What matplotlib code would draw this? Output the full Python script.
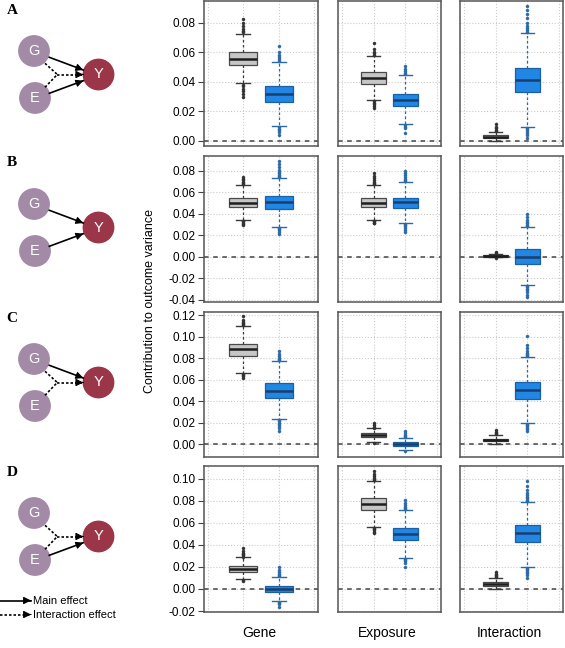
import matplotlib
matplotlib.use("Agg")
import matplotlib.pyplot as plt
from matplotlib.patches import Circle

plt.rcParams['font.family'] = ['Liberation Sans', 'DejaVu Sans']
plt.rcParams['axes.unicode_minus'] = False

# colonnes et scenarios
columns = ["Gene", "Exposure", "Interaction"]
scenarios = ["A", "B", "C", "D"]

# statistiques des boites : [scenario][colonne][gris, bleu]
med = [[[0.0554, 0.0316], [0.0426, 0.0279], [0.0027, 0.0412]],
       [[0.0502, 0.0506], [0.0502, 0.0506], [0.0006, 0.0000]],
       [[0.0881, 0.0497], [0.0083, 0.0000], [0.0040, 0.0501]],
       [[0.0184, 0.0000], [0.0773, 0.0501], [0.0045, 0.0505]]]
q1 = [[[0.0512, 0.0262], [0.0388, 0.0237], [0.0018, 0.0333]],
      [[0.0462, 0.0444], [0.0462, 0.0456], [0.0000, -0.0065]],
      [[0.0822, 0.0430], [0.0065, -0.0016], [0.0028, 0.0423]],
      [[0.0157, -0.0030], [0.0719, 0.0444], [0.0030, 0.0426]]]
q3 = [[[0.0600, 0.0372], [0.0464, 0.0318], [0.0041, 0.0494]],
      [[0.0543, 0.0562], [0.0543, 0.0549], [0.0013, 0.0072]],
      [[0.0928, 0.0566], [0.0102, 0.0019], [0.0052, 0.0575]],
      [[0.0211, 0.0027], [0.0822, 0.0556], [0.0061, 0.0578]]]
whislo = [[[0.0390, 0.0101], [0.0277, 0.0113], [0.0002, 0.0097]],
          [[0.0344, 0.0276], [0.0344, 0.0316], [-0.0006, -0.0263]],
          [[0.0664, 0.0232], [0.0021, -0.0056], [0.0003, 0.0195]],
          [[0.0088, -0.0109], [0.0565, 0.0281], [0.0003, 0.0202]]]
whishi = [[[0.0726, 0.0534], [0.0575, 0.0444], [0.0063, 0.0728]],
          [[0.0667, 0.0729], [0.0667, 0.0695], [0.0025, 0.0276]],
          [[0.1095, 0.0773], [0.0148, 0.0056], [0.0086, 0.0807]],
          [[0.0287, 0.0109], [0.0979, 0.0716], [0.0097, 0.0791]]]

# valeurs extremes (outliers)
fliers = [
    [[[0.0735, 0.0745, 0.0758, 0.0775, 0.0795, 0.0825, 0.0381, 0.037, 0.0355, 0.034, 0.032, 0.030],
      [0.0543, 0.0553, 0.0565, 0.058, 0.060, 0.0644, 0.0093, 0.0083, 0.0072, 0.006, 0.0039]],
     [[0.0583, 0.0593, 0.0605, 0.062, 0.066, 0.027, 0.026, 0.025, 0.0238, 0.0225],
      [0.0452, 0.0462, 0.0475, 0.049, 0.0509, 0.0106, 0.0097, 0.0088, 0.0052]],
     [[0.0069, 0.0077, 0.0086, 0.0097, 0.0113],
      [0.0738, 0.075, 0.0765, 0.078, 0.080, 0.083, 0.086, 0.0888, 0.0915,
       0.009, 0.008, 0.0068, 0.0055, 0.004, 0.0018]]],
    [[[0.0675, 0.0685, 0.0697, 0.071, 0.0725, 0.0744, 0.0337, 0.0328, 0.0318, 0.0307, 0.0295],
      [0.0738, 0.0748, 0.076, 0.0775, 0.079, 0.081, 0.0835, 0.086, 0.0893,
       0.0268, 0.0258, 0.0246, 0.0232, 0.0208]],
     [[0.0675, 0.0685, 0.0697, 0.071, 0.073, 0.0752, 0.0781, 0.0337, 0.0328, 0.0318, 0.031],
      [0.0703, 0.0713, 0.0725, 0.074, 0.0758, 0.0778, 0.080, 0.0308, 0.0298, 0.0286, 0.027, 0.025, 0.0227]],
     [[0.0031, 0.0041, -0.0012],
      [0.0285, 0.0296, 0.031, 0.0326, 0.0345, 0.0368, 0.0394,
       -0.0272, -0.0283, -0.0296, -0.0312, -0.0332, -0.0352, -0.0372]]],
    [[[0.1103, 0.1113, 0.1125, 0.1138, 0.1155, 0.119, 0.0656, 0.0647, 0.0636, 0.0618],
      [0.0781, 0.0791, 0.0803, 0.0818, 0.0838, 0.0868, 0.0224, 0.0214, 0.0202, 0.0188, 0.017, 0.015, 0.0126]],
     [[0.0155, 0.0165, 0.0178, 0.0195, 0.0013],
      [0.0064, 0.0075, 0.0088, 0.0105, 0.0126, -0.0062]],
     [[0.0093, 0.0102, 0.0114, 0.013],
      [0.0815, 0.0825, 0.0838, 0.0852, 0.087, 0.0892, 0.0918, 0.1005,
       0.0188, 0.0178, 0.0166, 0.0152, 0.0138, 0.0123]]],
    [[[0.0294, 0.0304, 0.0316, 0.033, 0.0348, 0.0369, 0.0082, 0.0076],
      [0.0117, 0.0127, 0.014, 0.0155, 0.0174, 0.0197, -0.0117, -0.0127, -0.014, -0.016]],
     [[0.0987, 0.0997, 0.1009, 0.1023, 0.104, 0.107, 0.0557, 0.0547, 0.0535, 0.052, 0.0505],
      [0.0724, 0.0734, 0.0746, 0.076, 0.0778, 0.0807, 0.0273, 0.0263, 0.0251, 0.0236, 0.0202]],
     [[0.0104, 0.0113, 0.0125, 0.0139, 0.0157],
      [0.0799, 0.0809, 0.0821, 0.0835, 0.0852, 0.0873, 0.09, 0.093, 0.0979,
       0.0194, 0.0184, 0.0172, 0.0158, 0.0142, 0.0125, 0.0097]]],
]

# graduations de l'axe y par scenario
yticks = [[0.00, 0.02, 0.04, 0.06, 0.08],
          [-0.04, -0.02, 0.00, 0.02, 0.04, 0.06, 0.08],
          [0.00, 0.02, 0.04, 0.06, 0.08, 0.10, 0.12],
          [-0.02, 0.00, 0.02, 0.04, 0.06, 0.08, 0.10]]
ylims = [(-0.0034, 0.0947), (-0.0421, 0.0937), (-0.0118, 0.1228), (-0.0209, 0.1115)]

# fleches des diagrammes : (G->Y plein, E->Y plein, interaction)
diagram_arrows = [(True, True, True), (True, True, False), (True, False, True), (False, True, True)]

W, H = 565, 648
fig = plt.figure(figsize=(W / 100, H / 100), dpi=100)

# axe de fond pour les diagrammes (coordonnees en pixels)
bg = fig.add_axes([0, 0, 1, 1], zorder=-1)
bg.set_xlim(0, W)
bg.set_ylim(H, 0)
bg.axis('off')

col_x = [(204, 114), (338, 103), (460, 103)]
row_y = [(1, 146), (156, 302), (312, 457), (466, 612)]

styles = [dict(fill='#c6c6c6', edge='#4a4a4a', med='#1e1e1e', whisk='#3a3a3a', fl='#333333'),
          dict(fill='#2186e4', edge='#1b5fa6', med='#1c3f6a', whisk='#2b68a8', fl='#2e6aa6')]

for r in range(4):
    top, bot = row_y[r]
    for c in range(3):
        x0, w = col_x[c]
        ax = fig.add_axes([x0 / W, 1 - bot / H, w / W, (bot - top) / H])
        for b in range(2):
            st = styles[b]
            stats = [dict(med=med[r][c][b], q1=q1[r][c][b], q3=q3[r][c][b],
                          whislo=whislo[r][c][b], whishi=whishi[r][c][b],
                          fliers=fliers[r][c][b])]
            ax.bxp(stats, positions=[b + 1], widths=0.8, patch_artist=True,
                   boxprops=dict(facecolor=st['fill'], edgecolor=st['edge'], linewidth=0.9),
                   medianprops=dict(color=st['med'], linewidth=1.8),
                   whiskerprops=dict(color=st['whisk'], linestyle=(0, (2, 2)), linewidth=0.9),
                   capprops=dict(color=st['whisk'], linewidth=1.0),
                   flierprops=dict(marker='o', markersize=2.2, markerfacecolor=st['fl'],
                                   markeredgecolor=st['fl'], markeredgewidth=0.3),
                   zorder=3)
        ax.axhline(0, color='#444444', linestyle=(0, (3, 3)), linewidth=1.1, zorder=2)
        ax.set_xlim(-0.12, 3.12)
        ax.set_ylim(*ylims[r])
        ax.set_yticks(yticks[r])
        ax.set_xticks([0, 1, 2, 3])
        ax.grid(True, color='#cccccc', linestyle=':', linewidth=0.8, zorder=0)
        ax.set_axisbelow(True)
        ax.tick_params(axis='x', length=0, labelbottom=False)
        if c == 0:
            ax.set_yticklabels([f"{v:.2f}" for v in yticks[r]])
            ax.tick_params(axis='y', length=4, width=0.8, color='#444444', labelsize=8.5, pad=2)
        else:
            ax.tick_params(axis='y', length=0, labelleft=False)
        for sp in ax.spines.values():
            sp.set_color('#555555')
            sp.set_linewidth(1.1)

# libelles des axes
fig.text(150 / W, 1 - 301 / H, "Contribution to outcome variance", rotation=90,
         ha='center', va='center', fontsize=9)
for c, name in enumerate(columns):
    x0, w = col_x[c]
    fig.text((x0 + w / 2 - 2) / W, 1 - 633 / H, name, ha='center', va='center', fontsize=10)

# diagrammes G, E -> Y
purple = '#a38aa6'
red = '#9a3648'
offsets = [0, 153, 308, 462]


def arrow(ax, x1, y1, x2, y2, dashed):
    ls = (0, (1.5, 1.2)) if dashed else '-'
    ax.plot([x1, x2], [y1, y2], color='black', linewidth=1.2, linestyle=ls)
    ax.annotate('', xy=(x2, y2), xytext=(x2 - (x2 - x1) * 0.01, y2 - (y2 - y1) * 0.01),
                arrowprops=dict(arrowstyle='-|>', color='black', lw=0.8,
                                mutation_scale=11, shrinkA=0, shrinkB=0))


for r, dy in enumerate(offsets):
    bg.text(12, 10 + dy, scenarios[r], family=['Liberation Serif', 'DejaVu Serif'],
            fontweight='bold', fontsize=11, ha='center', va='center')
    for (cx, cy, lab, col) in [(34, 51, "G", purple), (35, 98, "E", purple), (98.5, 74.5, "Y", red)]:
        bg.add_patch(Circle((cx, cy + dy), 15.2, color=col, zorder=2))
        bg.text(cx, cy + dy, lab, color='white', fontsize=10.5, ha='center', va='center', zorder=3)
    g_solid, e_solid, inter = diagram_arrows[r]
    if g_solid:
        arrow(bg, 49.3, 57.3 + dy, 83.3, 70 + dy, False)
    if e_solid:
        arrow(bg, 49.3, 93.3 + dy, 83.3, 80.7 + dy, False)
    if inter:
        ls = (0, (1.5, 1.2))
        bg.plot([45, 57.3], [63.3 + dy, 74.5 + dy], color='black', linewidth=1.2, linestyle=ls)
        bg.plot([45, 57.3], [87.3 + dy, 74.5 + dy], color='black', linewidth=1.2, linestyle=ls)
        arrow(bg, 57.3, 74.5 + dy, 83.3, 74.5 + dy, True)

# legende
arrow(bg, 0, 600.5, 31, 600.5, False)
arrow(bg, 0, 614.5, 31, 614.5, True)
bg.text(33, 600.5, "Main effect", fontsize=8, ha='left', va='center')
bg.text(33, 614.5, "Interaction effect", fontsize=8, ha='left', va='center')

fig.savefig("out.png", dpi=100)
